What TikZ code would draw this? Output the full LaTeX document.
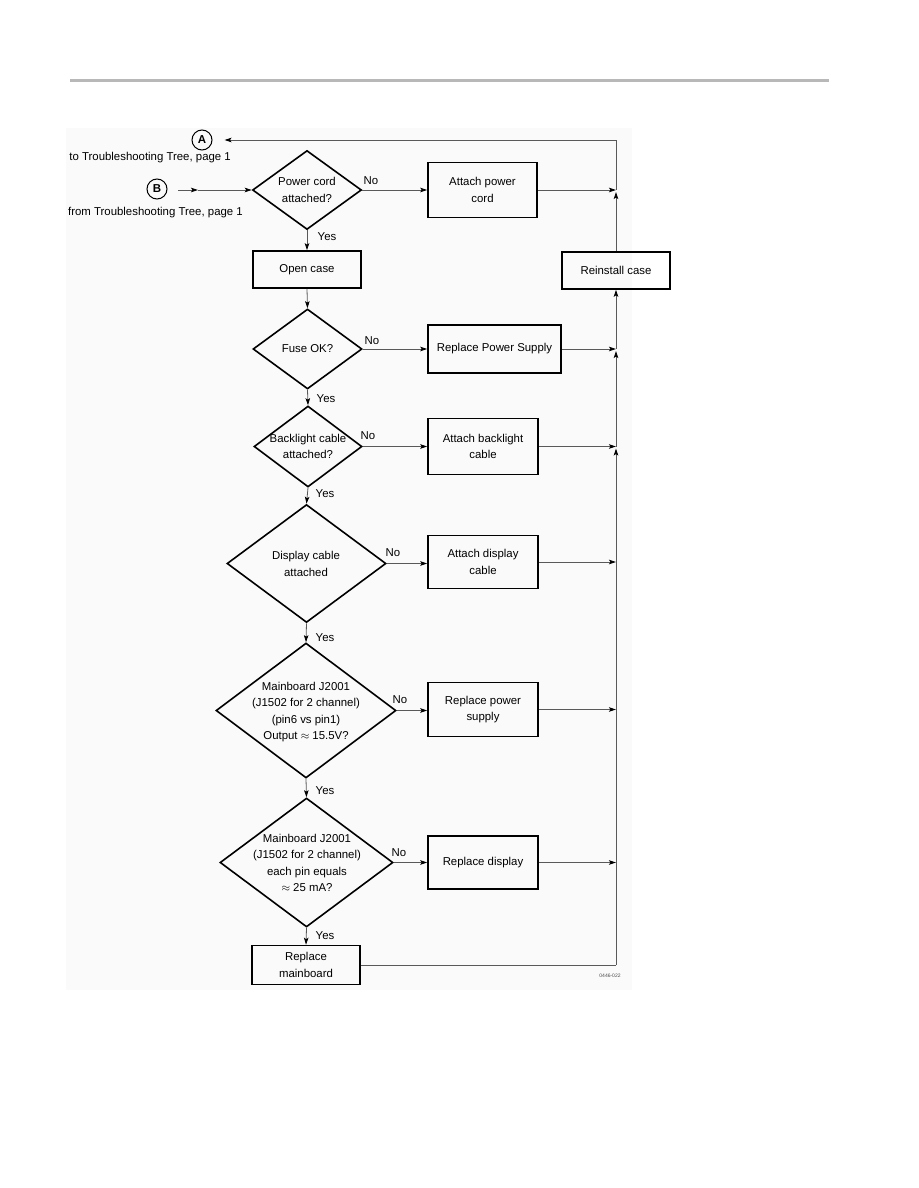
\documentclass[tikz,border=0pt]{standalone}
\usepackage{fontspec}
\setmainfont{Liberation Sans}
\usetikzlibrary{shapes.geometric,arrows.meta}
\begin{document}
\begin{tikzpicture}[x=1pt,y=-1pt,
  txt/.style={font=\fontsize{11.4}{16.5}\selectfont, align=center, inner sep=0pt},
  box/.style={draw=black, line width=1.6pt, inner sep=0pt, txt},
  dia/.style={draw=black, diamond, line width=1.6pt, inner sep=0pt},
  con/.style={draw=black!65, line width=0.8pt},
  arr/.style={con, -{Stealth[length=7pt,width=4.5pt,inset=1.5pt,color=black]}},
  lab/.style={txt},
  circ/.style={circle, draw=black, line width=1pt, minimum size=20pt, inner sep=0pt, font=\fontsize{11.5}{13}\selectfont\bfseries}
]
\useasboundingbox (0,0) rectangle (918,1188);
\fill[black!2] (66,128) rectangle (632,990);
\draw[black!28, line width=3pt] (70,80.5) -- (829,80.5);

% connectors A / B
\node[circ] (A) at (202,140) {A};
\node[circ] (B) at (157,189) {B};
\node[txt, anchor=east] (tA) at (231,158) {to Troubleshooting Tree, page 1};
\node[txt, anchor=east] (tB) at (243,213) {from Troubleshooting Tree, page 1};

% nodes
\node[dia, minimum width=109pt, minimum height=79pt] (d1) at (307,190) {};
\node[txt] at (d1) {Power cord\\attached?};
\node[box, minimum width=109pt, minimum height=55pt] (b1) at (482.5,190) {Attach power\\cord};
\node[box, minimum width=108pt, minimum height=37pt] (oc) at (307,269.5) {Open case};
\node[box, minimum width=108pt, minimum height=37pt] (rc) at (616,270.5) {Reinstall case};

\node[dia, minimum width=109pt, minimum height=80pt] (d2) at (307.5,349) {};
\node[txt] at (d2) {Fuse OK?};
\node[box, minimum width=133pt, minimum height=48pt] (b2) at (494.5,349) {Replace Power Supply};

\node[dia, minimum width=108pt, minimum height=81pt] (d3) at (308,446.5) {};
\node[txt] at (d3) {Backlight cable\\attached?};
\node[box, minimum width=110pt, minimum height=56pt] (b3) at (483,446.5) {Attach backlight\\cable};

\node[dia, minimum width=159pt, minimum height=118pt] (d4) at (306.5,563.5) {};
\node[txt] at (306,564) {Display cable\\attached};
\node[box, minimum width=110pt, minimum height=53pt] (b4) at (483,562) {Attach display\\cable};

\node[dia, minimum width=180pt, minimum height=135pt] (d5) at (306,710.5) {};
\node[txt] at (306,712) {Mainboard J2001\\(J1502 for 2 channel)\\(pin6 vs pin1)\\Output $\approx$ 15.5V?};
\node[box, minimum width=110pt, minimum height=54pt] (b5) at (483,709.5) {Replace power\\supply};

\node[dia, minimum width=173pt, minimum height=129pt] (d6) at (306.5,862.5) {};
\node[txt] at (307,863) {Mainboard J2001\\(J1502 for 2 channel)\\each pin equals\\$\approx$ 25 mA?};
\node[box, minimum width=110pt, minimum height=53pt] (b6) at (483,862.5) {Replace display};

\node[box, minimum width=108pt, minimum height=39pt] (b7) at (306,965) {Replace\\mainboard};

\node[font=\fontsize{5}{6}\selectfont, text=black!70, inner sep=0pt] (fig) at (610,976) {0446-022};

% right-hand return line coordinates
\coordinate (rt) at (616,140);
\coordinate (m1) at (616,190);
\coordinate (m2) at (616,349);
\coordinate (m3) at (616,446.5);
\coordinate (mb) at (616,965);

% B input
\coordinate (bs) at (178,190);
\coordinate (bm) at (198,190);
\draw[arr] (bs) -- (bm);
\draw[arr] (bm) -- (d1.west);

% main flow
\draw[arr] (d1.south) -- (oc.north);
\draw[arr] (oc.south) -- (d2.north);
\draw[arr] (d2.south) -- (d3.north);
\draw[arr] (d3.south) -- (d4.north);
\draw[arr] (d4.south) -- (d5.north);
\draw[arr] (d5.south) -- (d6.north);
\draw[arr] (d6.south) -- (b7.north);

\draw[arr] (d1.east) -- (d1.east -| b1.west);
\draw[arr] (d2.east) -- (d2.east -| b2.west);
\draw[arr] (d3.east) -- (d3.east -| b3.west);
\draw[arr] (d4.east) -- (d4.east -| b4.west);
\draw[arr] (d5.east) -- (d5.east -| b5.west);
\draw[arr] (d6.east) -- (d6.east -| b6.west);

% merges into return line
\draw[arr] (b1.east) -- (b1.east -| rt);
\draw[arr] (b2.east) -- (b2.east -| rt);
\draw[arr] (b3.east) -- (b3.east -| rt);
\draw[arr] (b4.east) -- (b4.east -| rt);
\draw[arr] (b5.east) -- (b5.east -| rt);
\draw[arr] (b6.east) -- (b6.east -| rt);

% return line
\draw[con] (b7.east) -- (mb);
\draw[arr, shorten >=2pt] (mb) -- (m3);
\draw[arr, shorten >=2pt] (m3) -- (m2);
\draw[arr] (m2) -- (rc.south);
\draw[arr, shorten >=2pt] (rc.north) -- (m1);
\draw[con] (m1) -- (rt);
\draw[arr, shorten >=12pt] (rt) -- (A);

% labels
\node[lab] at (371,181) {No};
\node[lab] at (372,341) {No};
\node[lab] at (368,436) {No};
\node[lab] at (393,553) {No};
\node[lab] at (400,700) {No};
\node[lab] at (399,853) {No};
\node[lab] at (327,237) {Yes};
\node[lab] at (326,399) {Yes};
\node[lab] at (325,494) {Yes};
\node[lab] at (325,638) {Yes};
\node[lab] at (325,791) {Yes};
\node[lab] at (325,936) {Yes};
\end{tikzpicture}
\end{document}
